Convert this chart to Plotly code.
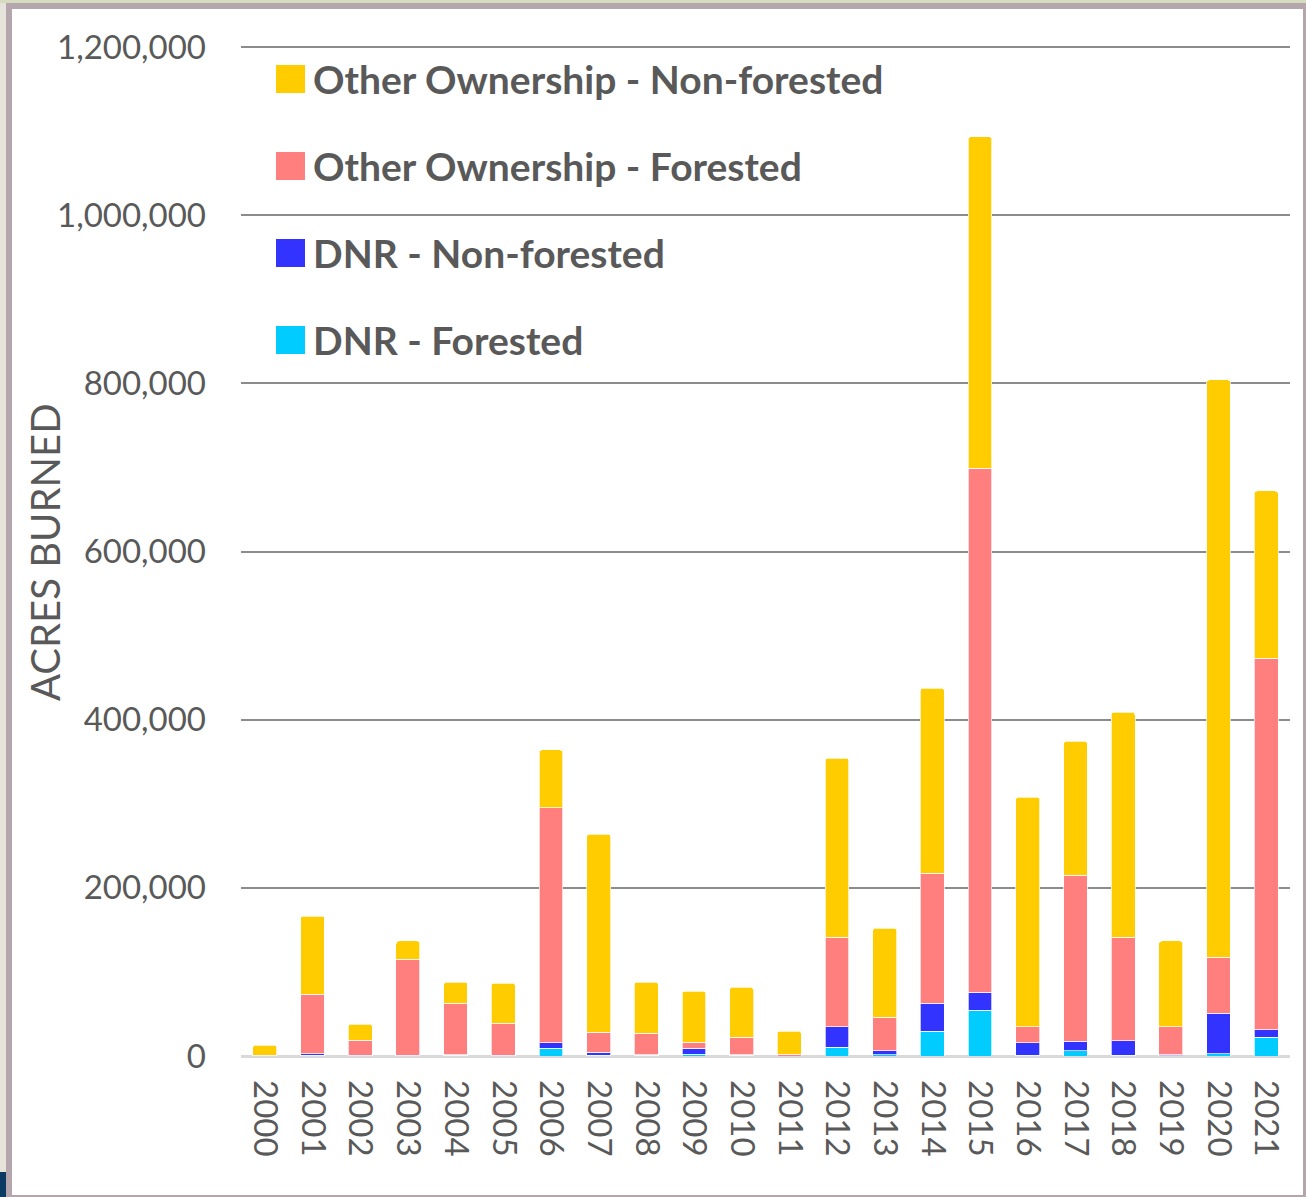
import plotly.graph_objects as go

years = [str(y) for y in range(2000, 2022)]

dnr_forested = [0, 1000, 500, 500, 700, 500, 9500, 1000, 700, 2000, 700, 0,
                10700, 1500, 29700, 54700, 1000, 6000, 1000, 500, 2400, 22600]
dnr_nonforested = [0, 1500, 500, 500, 800, 500, 6000, 3500, 800, 7000, 800, 0,
                   23800, 4500, 33300, 21400, 14500, 11800, 17000, 1000, 48600, 8400]
other_forested = [1000, 71000, 18000, 114000, 61500, 38000, 280000, 24000, 25500, 7500, 21000, 2000,
                  107000, 40000, 154600, 623000, 19000, 197000, 123500, 33000, 66700, 442000]
other_nonforested = [12000, 93000, 19000, 21800, 25000, 47800, 68500, 235500, 61000, 60500, 59500, 27700,
                     212500, 106000, 220000, 394000, 273500, 159600, 267500, 102300, 686300, 199000]

series_names = ["DNR - Forested", "DNR - Non-forested",
                "Other Ownership - Forested", "Other Ownership - Non-forested"]
series_values = [dnr_forested, dnr_nonforested, other_forested, other_nonforested]
series_colors = ["#00CCFF", "#3333FF", "#FF7F7F", "#FFCC00"]

y_tick_vals = [0, 200000, 400000, 600000, 800000, 1000000, 1200000]
y_tick_text = ["0", "200,000", "400,000", "600,000", "800,000", "1,000,000", "1,200,000"]
y_range = [0, 1201200]

W, H = 1306, 1197
L, R, T, B = 241, 16, 46, 141
PW, PH = W - L - R, H - T - B


def px2x(px):
    return (px - L) / PW


def px2y(py):
    return (H - B - py) / PH


fig = go.Figure()
for name, vals, col in zip(series_names, series_values, series_colors):
    fig.add_trace(go.Bar(
        x=years, y=vals, name=name, showlegend=False,
        marker=dict(color=col, line=dict(color="rgba(255,255,255,0.7)", width=1), cornerradius=3),
    ))

shapes = []
# frame
shapes.append(dict(type="rect", xref="paper", yref="paper", x0=px2x(0), x1=px2x(W), y0=px2y(H), y1=px2y(0),
                   fillcolor="#B4A6AC", line=dict(width=0), layer="below"))
shapes.append(dict(type="rect", xref="paper", yref="paper", x0=px2x(0), x1=px2x(6), y0=px2y(H), y1=px2y(0),
                   fillcolor="#E6E3DA", line=dict(width=0), layer="below"))
shapes.append(dict(type="rect", xref="paper", yref="paper", x0=px2x(0), x1=px2x(W), y0=px2y(3), y1=px2y(0),
                   fillcolor="#D5DBBE", line=dict(width=0), layer="below"))
shapes.append(dict(type="rect", xref="paper", yref="paper", x0=px2x(0), x1=px2x(6), y0=px2y(H), y1=px2y(1172),
                   fillcolor="#0B3A63", line=dict(width=0), layer="below"))
shapes.append(dict(type="rect", xref="paper", yref="paper", x0=px2x(12), x1=px2x(1303), y0=px2y(1195), y1=px2y(9),
                   fillcolor="white", line=dict(width=0), layer="below"))

annotations = []
# manual legend (top to bottom reverses stack order)
legend_rows = [79, 166, 253, 340]
for cy, name, col in zip(legend_rows, series_names[::-1], series_colors[::-1]):
    shapes.append(dict(type="rect", xref="paper", yref="paper",
                       x0=px2x(276), x1=px2x(305), y0=px2y(cy + 14), y1=px2y(cy - 14),
                       fillcolor=col, line=dict(width=0)))
    annotations.append(dict(xref="paper", yref="paper", x=px2x(311), y=px2y(cy), text=name,
                            showarrow=False, xanchor="left", yanchor="middle",
                            font=dict(family="Lato", size=39, color="#595959", weight=700)))

annotations.append(dict(xref="paper", yref="paper", x=px2x(45), y=px2y(552), text="ACRES BURNED",
                        textangle=-90, showarrow=False, xanchor="center", yanchor="middle",
                        font=dict(family="Lato", size=40, color="#595959")))

fig.update_layout(
    width=W, height=H,
    margin=dict(l=L, r=R, t=T, b=B, autoexpand=False),
    barmode="stack", bargap=0.5,
    paper_bgcolor="white", plot_bgcolor="rgba(0,0,0,0)",
    shapes=shapes, annotations=annotations,
    font=dict(family="Lato", color="#595959"),
    xaxis=dict(type="category", tickangle=90, tickfont=dict(size=33, color="#595959"),
               showgrid=False, ticks="", ticklabelstandoff=23, showline=False, zeroline=False),
    yaxis=dict(range=y_range, tickvals=y_tick_vals, ticktext=y_tick_text,
               tickfont=dict(size=33, color="#595959"), ticks="", ticklabelstandoff=34,
               showgrid=True, gridcolor="#8C8C8C", gridwidth=2,
               zeroline=True, zerolinecolor="#D9D9D9", zerolinewidth=3, showline=False),
)

fig.write_html("out.html", config={"displayModeBar": False},
               post_script="document.body.style.margin='0';document.body.style.overflow='hidden';")
